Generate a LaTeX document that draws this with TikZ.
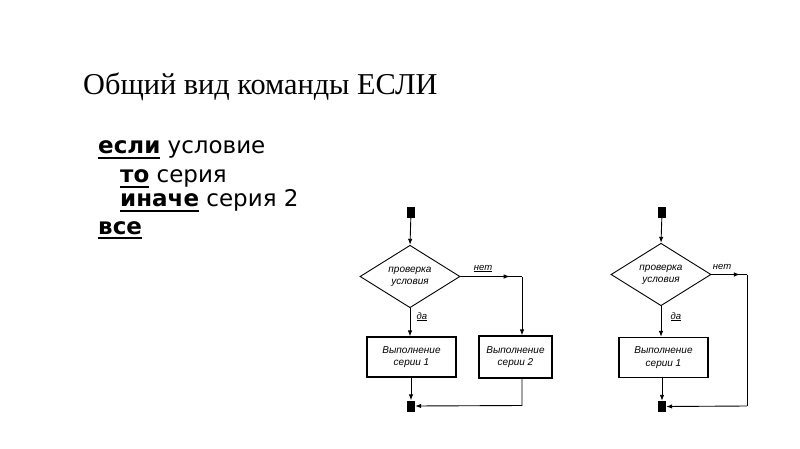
\documentclass[tikz,border=0pt]{standalone}
\usepackage{fontspec}
\setmainfont{Liberation Serif}
\newfontfamily\codefont{DejaVu Sans}
\newfontfamily\chartfont{Liberation Sans}
\usetikzlibrary{shapes.geometric,arrows.meta,decorations.markings}
\newcommand\kwul[1]{\setbox0\hbox{\bfseries #1}\rlap{\rule[-5pt]{\wd0}{2.2pt}}\box0\relax}
\newcommand\lblul[1]{\setbox0\hbox{#1}\rlap{\rule[-1.8pt]{\wd0}{0.8pt}}\box0\relax}
\tikzset{
  code/.style={anchor=base west, font=\codefont\fontsize{23}{27}\selectfont, inner sep=0},
  blk/.style={fill=black, draw=none, minimum width=8pt, minimum height=11pt, inner sep=0},
  dec/.style={draw, diamond, line width=0.9pt, minimum width=100pt, minimum height=54pt, inner sep=0, font=\chartfont\itshape\fontsize{10}{12}\selectfont, align=center},
  proc/.style={draw, rectangle, line width=1.2pt, minimum width=89pt, minimum height=40pt, inner sep=0, font=\chartfont\itshape\fontsize{10}{12.5}\selectfont, align=center},
  lbl/.style={font=\chartfont\itshape\fontsize{9.5}{11}\selectfont, inner sep=0, anchor=base},
  conn/.style={line width=0.9pt},
  arr/.style={conn, -{Latex[length=6pt,width=4.5pt]}},
  midarr/.style={conn, postaction={decorate}, decoration={markings, mark=at position #1 with {\arrow{Latex[length=6pt,width=4.5pt]}}}}
}
\begin{document}
\begin{tikzpicture}[x=1pt,y=-1pt]
\useasboundingbox[fill=white] (0,0) rectangle (800,449);
% title
\node[anchor=base west, inner sep=0, font=\fontsize{30.3}{36}\selectfont] (title) at (83,95) {Общий вид команды ЕСЛИ};
% code
\node[code] (l1) at (98,154) {\kwul{если} условие};
\node[code] (l2) at (120,183) {\kwul{то} серия};
\node[code] (l3) at (120,207) {\kwul{иначе} серия 2};
\node[code] (l4) at (98,234) {\kwul{все}};
% left chart
\node[blk] (s1) at (411,212.5) {};
\node[dec] (d1) at (410,276.5) {проверка\\условия};
\node[proc] (p1) at (411.5,357) {Выполнение\\серии 1};
\node[proc, minimum width=73pt, minimum height=42pt] (p2) at (515.5,357) {Выполнение\\серии 2};
\node[blk] (e1) at (411,406) {};
\coordinate (c1) at (522,276.5);
\coordinate (c2) at (522,405.5);
\draw[arr] (s1) -- (d1.north);
\draw[midarr=0.8] (d1.east) -- (c1);
\draw[arr] (c1) -- (c1 |- p2.north);
\draw[arr] (d1.south) -- (d1.south |- p1.north);
\draw[arr] (p1.south -| e1) -- (e1.north);
\draw[arr] (c1 |- p2.south) -- (c2) -- (e1.east);
\node[lbl] (n1) at (483,270) {\lblul{нет}};
\node[lbl] (y1) at (422,319) {\lblul{да}};
% right chart
\node[blk] (s2) at (662,212.5) {};
\node[dec] (d2) at (661,274.5) {проверка\\условия};
\node[proc] (p3) at (663.5,357.5) {Выполнение\\серии 1};
\node[blk] (e2) at (662,406.5) {};
\coordinate (c3) at (747,274.5);
\coordinate (c4) at (747,406);
\draw[arr] (s2) -- (d2.north);
\draw[midarr=0.8] (d2.east) -- (c3);
\draw[conn] (c3) -- (c4);
\draw[arr] (d2.south) -- (d2.south |- p3.north);
\draw[arr] (p3.south -| e2) -- (e2.north);
\draw[arr] (c4) -- (e2.east);
\node[lbl] (n2) at (722,269) {нет};
\node[lbl] (y2) at (676,319) {\lblul{да}};
\end{tikzpicture}
\end{document}
